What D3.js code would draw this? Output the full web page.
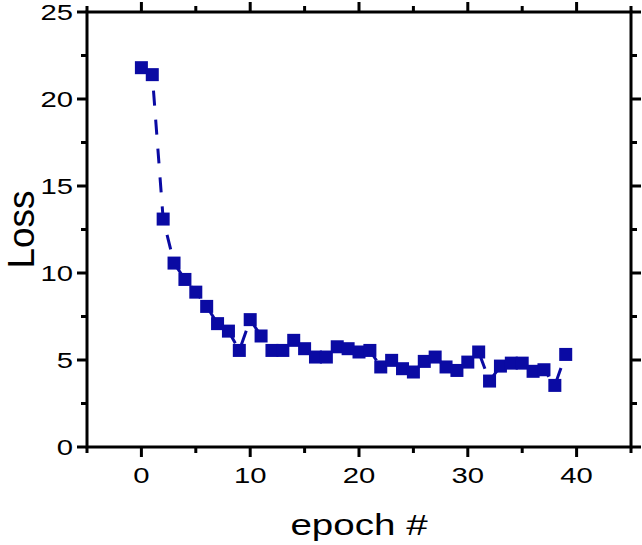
<!DOCTYPE html>
<html>
<head>
<meta charset="utf-8">
<script src="https://cdn.jsdelivr.net/npm/d3@7"></script>
<style>
  body { margin: 0; background: #fff; }
  text { font-family: "Liberation Sans", Arial, sans-serif; }
</style>
</head>
<body>
<div id="container"></div>
<script>
// epoch index and loss values
var epochs = d3.range(0, 40);
var loss = [21.8, 21.4, 13.1, 10.57, 9.63, 8.9, 8.08, 7.09, 6.66, 5.55,
            7.32, 6.38, 5.55, 5.55, 6.13, 5.65, 5.17, 5.17, 5.76, 5.65,
            5.46, 5.55, 4.6, 4.98, 4.5, 4.31, 4.92, 5.17, 4.6, 4.4,
            4.88, 5.46, 3.79, 4.65, 4.82, 4.82, 4.35, 4.44, 3.54, 5.32];
var xTicks = [0, 10, 20, 30, 40];
var xMinor = [-5, 5, 15, 25, 35, 45];
var yTicks = [0, 5, 10, 15, 20, 25];
var yMinor = [2.5, 7.5, 12.5, 17.5, 22.5];

var width = 642, height = 545;
// plot frame edges (window.top is reserved, so prefix them)
var plotL = 87, plotR = 631, plotT = 12, plotB = 447;
var blue = "#0a0aa3";
// the source picture's lettering is drawn wide
var stretch = 1.33;

var svg = d3.select("#container").append("svg")
    .attr("width", width)
    .attr("height", height);

var x = d3.scaleLinear().domain([-5, 45]).range([plotL, plotR]);
var y = d3.scaleLinear().domain([0, 25]).range([plotB, plotT]);

// ticks on all four sides, all pointing out
function ticks(side, values, len) {
  var g = svg.append("g").attr("stroke", "#000").attr("stroke-width", 3);
  values.forEach(function(v) {
    if (side == "bottom") g.append("line").attr("x1", x(v)).attr("x2", x(v)).attr("y1", plotB).attr("y2", plotB + len);
    if (side == "top") g.append("line").attr("x1", x(v)).attr("x2", x(v)).attr("y1", plotT).attr("y2", plotT - len);
    if (side == "left") g.append("line").attr("y1", y(v)).attr("y2", y(v)).attr("x1", plotL).attr("x2", plotL - len);
    if (side == "right") g.append("line").attr("y1", y(v)).attr("y2", y(v)).attr("x1", plotR).attr("x2", plotR + len);
  });
}
ticks("bottom", xTicks, 10); ticks("bottom", xMinor, 6);
ticks("top", xTicks, 10); ticks("top", xMinor, 6);
ticks("left", yTicks, 10); ticks("left", yMinor, 6);
ticks("right", yTicks, 10); ticks("right", yMinor, 6);

svg.append("rect")
    .attr("x", plotL).attr("y", plotT)
    .attr("width", plotR - plotL).attr("height", plotB - plotT)
    .attr("fill", "none").attr("stroke", "#000").attr("stroke-width", 3);

svg.selectAll(".xlab").data(xTicks).enter().append("text")
    .attr("class", "xlab")
    .attr("transform", function(d) { return "translate(" + x(d) + "," + (plotB + 36) + ") scale(" + stretch + ",1)"; })
    .attr("text-anchor", "middle")
    .attr("font-size", 22)
    .text(function(d) { return d; });

svg.selectAll(".ylab").data(yTicks).enter().append("text")
    .attr("class", "ylab")
    .attr("transform", function(d) { return "translate(" + (plotL - 14) + "," + (y(d) + 8) + ") scale(" + stretch + ",1)"; })
    .attr("text-anchor", "end")
    .attr("font-size", 22)
    .text(function(d) { return d; });

svg.append("text")
    .attr("transform", "translate(" + (plotL + plotR) / 2 + ",535) scale(" + stretch + ",1)")
    .attr("text-anchor", "middle")
    .attr("font-size", 29)
    .text("epoch #");

svg.append("text")
    .attr("transform", "translate(34," + (plotT + plotB) / 2 + ") rotate(-90)")
    .attr("text-anchor", "middle")
    .attr("font-size", 37)
    .text("Loss");

var line = d3.line()
    .x(function(d, i) { return x(epochs[i]); })
    .y(function(d) { return y(d); });

svg.append("path")
    .datum(loss)
    .attr("d", line)
    .attr("fill", "none")
    .attr("stroke", blue)
    .attr("stroke-width", 3)
    .attr("stroke-dasharray", "15,14");

var s = 13;
svg.selectAll(".pt").data(loss).enter().append("rect")
    .attr("class", "pt")
    .attr("x", function(d, i) { return x(epochs[i]) - s / 2; })
    .attr("y", function(d) { return y(d) - s / 2; })
    .attr("width", s).attr("height", s)
    .attr("fill", blue);
</script>
</body>
</html>
